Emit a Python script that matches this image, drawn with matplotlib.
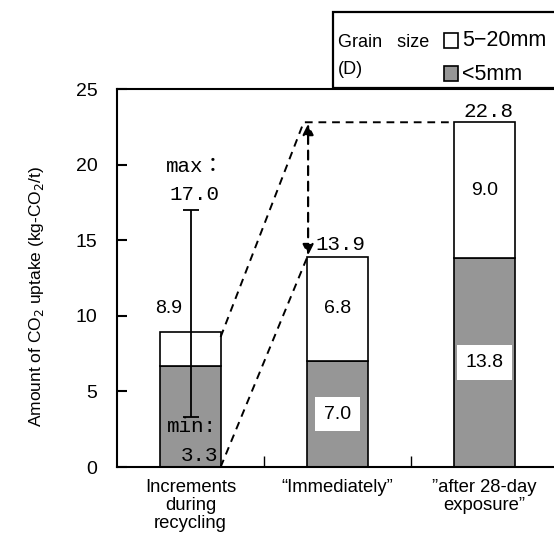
import matplotlib
matplotlib.use("Agg")
import matplotlib.pyplot as plt
from matplotlib.patches import Rectangle
import numpy as np

# data
categories = ["Increments\nduring\nrecycling", "\u201cImmediately\u201d", "\u201dafter 28-day\nexposure\u201d"]
fine = [6.7, 7.0, 13.8]         # <5mm part
total = [8.9, 13.9, 22.8]       # whole bar
coarse = [t - f for t, f in zip(total, fine)]   # 5-20mm part
coarse_labels = ["", "6.8", "9.0"]
fine_labels = ["", "7.0", "13.8"]
err_min = 3.3
err_max = 17.0
yticks = [0, 5, 10, 15, 20, 25]

sans = "Liberation Sans"
mono = ["Liberation Mono", "Noto Sans CJK JP"]
GRAY = "#969696"

fig = plt.figure(figsize=(5.54, 5.36), dpi=100)
ax = fig.add_axes([117/554, 1-467/536, 441/554, 378/536])

x = np.arange(len(categories))
w = 0.41
ax.bar(x, fine, w, color=GRAY, edgecolor="black", linewidth=1.2, zorder=2)
ax.bar(x, coarse, w, bottom=fine, color="white", edgecolor="black", linewidth=1.2, zorder=2)

# min/max bar on the first column
ax.errorbar([x[0]], [(err_min+err_max)/2], yerr=[[(err_max-err_min)/2], [(err_max-err_min)/2]],
            fmt="none", ecolor="black", elinewidth=1.3, capsize=6, capthick=1.3, zorder=3)

ax.set_xlim(-0.5, 2.5)
ax.set_ylim(0, 25)
ax.set_yticks(yticks)
ax.set_xticks(x)
ax.set_xticklabels(categories, fontsize=13.3, family=sans, linespacing=1.05)
ax.set_xticks([0.5, 1.5], minor=True)
ax.tick_params(axis="x", which="major", length=0, pad=9)
ax.tick_params(axis="x", which="minor", direction="in", length=8, width=1)
ax.tick_params(axis="y", direction="in", length=7, width=1.5, pad=14, labelsize=14)
for lab in ax.get_yticklabels():
    lab.set_family(sans)
for s in ["left", "bottom", "top"]:
    ax.spines[s].set_linewidth(1.5)
ax.spines["right"].set_visible(False)

# value labels
for i in x:
    if coarse_labels[i]:
        ax.text(i, fine[i] + coarse[i]/2, coarse_labels[i], ha="center", va="center",
                fontsize=14, family=sans, zorder=4)
    if fine_labels[i]:
        ax.text(i, fine[i]/2, fine_labels[i], ha="center", va="center", fontsize=14,
                family=sans, zorder=4,
                bbox=dict(boxstyle="square,pad=0.45", fc="white", ec="none"))

ax.text(-0.15, total[0] + 1.6, "%.1f" % total[0], ha="center", va="center", fontsize=14, family=sans)
ax.text(x[1] + 0.02, total[1] + 0.2, "%.1f" % total[1], ha="center", va="bottom", fontsize=15, family=mono)
ax.text(x[2] + 0.03, total[2] + 0.1, "%.1f" % total[2], ha="center", va="bottom", fontsize=15, family=mono)
ax.text(0.03, 19.9, "max\uff1a", ha="center", va="center", fontsize=15, family=mono)
ax.text(0.03, err_max + 1.0, "%.1f" % err_max, ha="center", va="center", fontsize=15, family=mono)
ax.text(0.18, 2.65, "min:", ha="right", va="center", fontsize=15, family=mono)
ax.text(0.19, 0.75, "%.1f" % err_min, ha="right", va="center", fontsize=15, family=mono)

# dashed guide lines
left2 = x[1] - w/2
ax.plot([x[0] + w/2, 0.77, x[2] - w/2], [total[0] - 0.3, total[2], total[2]],
        ls=(0, (4, 3)), color="black", lw=1.4, zorder=3)
ax.plot([x[0] + w/2, left2], [0, total[1]], ls=(0, (4, 3)), color="black", lw=1.4, zorder=3)
ax.annotate("", xy=(0.80, total[2] - 0.1), xytext=(0.80, total[1] + 0.1),
            arrowprops=dict(arrowstyle="<|-|>", ls=(0, (4, 3)), lw=1.6, color="black",
                            mutation_scale=16, shrinkA=0, shrinkB=0), zorder=4)

fig.text(37/554, 1-296/536, "Amount of CO$_2$ uptake (kg-CO$_2$/t)", rotation=90,
         ha="center", va="center", fontsize=12.5, family=sans)

# legend box
fig.patches.append(Rectangle((333/554, 1-88/536), 230/554, 76/536, transform=fig.transFigure,
                             fc="white", ec="black", lw=1.6))
fig.text(338/554, 1-42/536, "Grain   size", ha="left", va="center", fontsize=13, family=sans)
fig.text(338/554, 1-70/536, "(D)", ha="left", va="center", fontsize=13, family=sans)
fig.patches.append(Rectangle((444/554, 1-48/536), 14/554, 15/536, transform=fig.transFigure,
                             fc="white", ec="black", lw=1.2))
fig.patches.append(Rectangle((444/554, 1-81/536), 14/554, 15/536, transform=fig.transFigure,
                             fc=GRAY, ec="black", lw=1.2))
fig.text(462/554, 1-41/536, "5\u221220mm", ha="left", va="center", fontsize=15.5, family=sans)
fig.text(462/554, 1-74/536, "<5mm", ha="left", va="center", fontsize=15.5, family=sans)

fig.savefig("out.png", dpi=100)
